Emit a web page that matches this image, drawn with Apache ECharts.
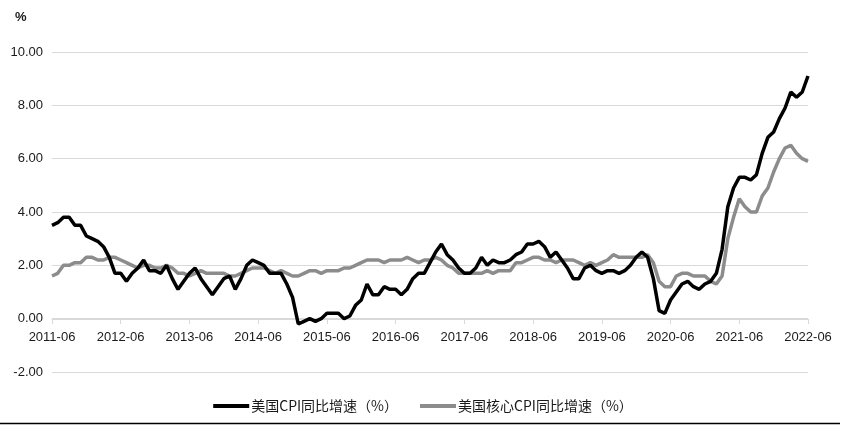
<!DOCTYPE html>
<html>
<head>
<meta charset="utf-8">
<script src="https://cdn.jsdelivr.net/npm/echarts@6/dist/echarts.min.js"></script>
<style>html,body{margin:0;padding:0;background:#fff;}#c{width:846px;height:425px;}</style>
</head>
<body>
<div id="c"></div>
<script>
// Months 2011-06 .. 2022-06
const categories = [];
for (let y = 2011; y <= 2022; y++) {
  for (let m = 1; m <= 12; m++) {
    if (y === 2011 && m < 6) continue;
    if (y === 2022 && m > 6) continue;
    categories.push(y + '-' + (m < 10 ? '0' + m : m));
  }
}
const cpi = [
  3.5,3.6,3.8,3.8,3.5,3.5,3.1,
  3.0,2.9,2.7,2.3,1.7,1.7,1.4,1.7,1.9,2.2,1.8,1.8,
  1.7,2.0,1.5,1.1,1.4,1.7,1.9,1.5,1.2,0.9,1.2,1.5,
  1.6,1.1,1.5,2.0,2.2,2.1,2.0,1.7,1.7,1.7,1.3,0.8,
  -0.2,-0.1,0.0,-0.1,0.0,0.2,0.2,0.2,0.0,0.1,0.5,0.7,
  1.3,0.9,0.9,1.2,1.1,1.1,0.9,1.1,1.5,1.7,1.7,2.1,
  2.5,2.8,2.4,2.2,1.9,1.7,1.7,1.9,2.3,2.0,2.2,2.1,
  2.1,2.2,2.4,2.5,2.8,2.8,2.9,2.7,2.3,2.5,2.2,1.9,
  1.5,1.5,1.9,2.0,1.8,1.7,1.8,1.8,1.7,1.8,2.0,2.3,
  2.5,2.3,1.5,0.3,0.2,0.7,1.0,1.3,1.4,1.2,1.1,1.3,
  1.4,1.7,2.6,4.2,4.9,5.3,5.3,5.2,5.4,6.2,6.8,7.0,
  7.5,7.9,8.5,8.3,8.5,9.1
];
const coreCpi = [
  1.6,1.7,2.0,2.0,2.1,2.1,2.3,
  2.3,2.2,2.2,2.3,2.3,2.2,2.1,2.0,1.9,2.0,2.0,1.9,
  1.9,2.0,1.9,1.7,1.7,1.6,1.7,1.8,1.7,1.7,1.7,1.7,
  1.6,1.6,1.7,1.8,1.9,1.9,1.9,1.8,1.7,1.8,1.7,1.6,
  1.6,1.7,1.8,1.8,1.7,1.8,1.8,1.8,1.9,1.9,2.0,2.1,
  2.2,2.2,2.2,2.1,2.2,2.2,2.2,2.3,2.2,2.1,2.2,2.2,
  2.3,2.2,2.0,1.9,1.7,1.7,1.7,1.7,1.7,1.8,1.7,1.8,
  1.8,1.8,2.1,2.1,2.2,2.3,2.3,2.2,2.2,2.1,2.2,2.2,
  2.2,2.1,2.0,2.1,2.0,2.1,2.2,2.4,2.3,2.3,2.3,2.3,
  2.3,2.4,2.1,1.4,1.2,1.2,1.6,1.7,1.7,1.6,1.6,1.6,
  1.4,1.3,1.6,3.0,3.8,4.5,4.2,4.0,4.0,4.6,4.9,5.5,
  6.0,6.4,6.5,6.2,6.0,5.9
];
const seriesNames = ['美国CPI同比增速（%）', '美国核心CPI同比增速（%）'];
const yTicks = [-2, 0, 2, 4, 6, 8, 10];

const chart = echarts.init(document.getElementById('c'), null, {renderer: 'canvas'});
const lbl = {fontFamily: '"Liberation Sans", Arial, sans-serif', fontSize: 13, color: '#1a1a1a'};
chart.setOption({
  animation: false,
  backgroundColor: '#fff',
  grid: {left: 52, right: 38, top: 52, bottom: 53},
  title: {text: '%', left: 10, top: 6, textStyle: {fontFamily: '"Liberation Sans", Arial, sans-serif', fontSize: 13, fontWeight: 'bold', color: '#1a1a1a'}},
  legend: {
    bottom: 7, left: 'center', itemWidth: 36, itemHeight: 4, itemGap: 22,
    icon: 'rect',
    textStyle: {fontFamily: '"Noto Sans CJK SC", sans-serif', fontSize: 14, color: '#1a1a1a', padding: [0, 0, 0, -3]},
    data: seriesNames
  },
  xAxis: {
    type: 'category', data: categories, boundaryGap: false,
    offset: -53,
    axisLine: {onZero: false, lineStyle: {color: '#d9d9d9', width: 1}},
    axisTick: {show: true, interval: 11, length: 5, lineStyle: {color: '#d9d9d9'}},
    axisLabel: Object.assign({interval: 11, margin: 12}, lbl),
    splitLine: {show: false}
  },
  yAxis: {
    type: 'value', min: yTicks[0], max: yTicks[yTicks.length - 1], interval: 2,
    axisLine: {show: false}, axisTick: {show: false},
    axisLabel: Object.assign({formatter: v => v.toFixed(2), margin: 9}, lbl),
    splitLine: {lineStyle: {color: '#d9d9d9', width: 1}}
  },
  series: [
    {name: seriesNames[0], type: 'line', data: cpi, showSymbol: false, symbol: 'none', z: 3,
     lineStyle: {color: '#000', width: 3.5}, itemStyle: {color: '#000'}},
    {name: seriesNames[1], type: 'line', data: coreCpi, showSymbol: false, symbol: 'none', z: 2,
     lineStyle: {color: '#8c8c8c', width: 3.5}, itemStyle: {color: '#8c8c8c'}}
  ],
  graphic: [{type: 'line', shape: {x1: 0, y1: 423.5, x2: 840, y2: 423.5}, style: {stroke: '#000', lineWidth: 1.5}}]
});
</script>
</body>
</html>
